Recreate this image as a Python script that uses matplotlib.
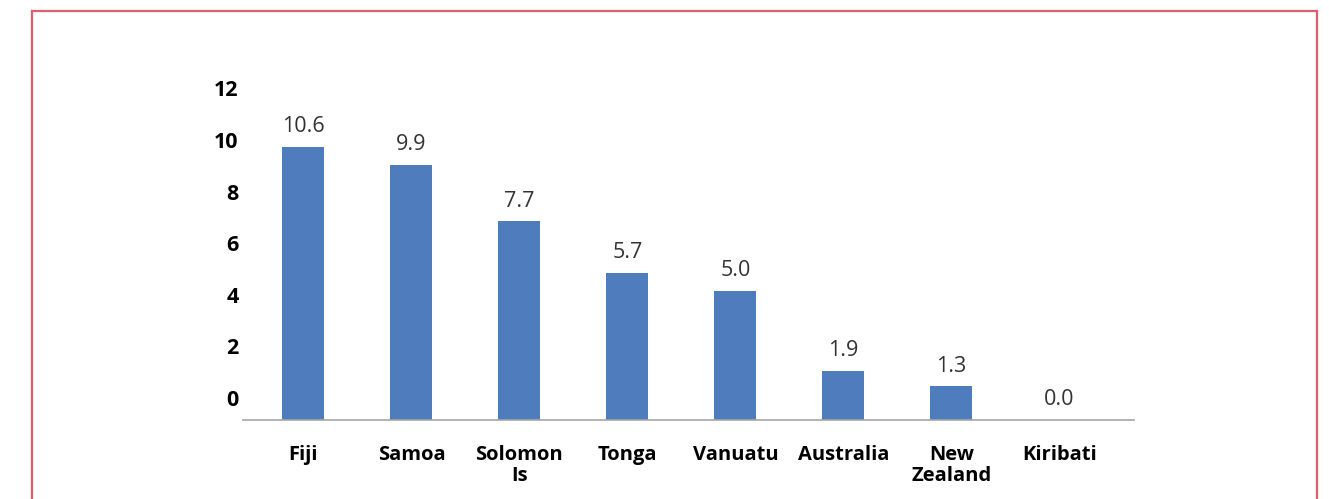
import matplotlib
matplotlib.use("Agg")
import matplotlib.pyplot as plt
import matplotlib.transforms as mtransforms
from matplotlib.lines import Line2D
import numpy as np

# ---- data ----
countries = ["Fiji", "Samoa", "Solomon\nIs", "Tonga", "Vanuatu",
             "Australia", "New\nZealand", "Kiribati"]
values = [10.6, 9.9, 7.7, 5.7, 5.0, 1.9, 1.3, 0.0]
y_ticks = [0, 2, 4, 6, 8, 10, 12]

BAR_COLOR = "#4f7cbc"
FRAME_COLOR = "#e05f6f"

plt.rcParams["font.family"] = ["Open Sans", "DejaVu Sans"]

fig = plt.figure(figsize=(13.29, 4.99), dpi=100)
ax = fig.add_axes([0.1828, 0.1583, 0.6704, 0.6463])

x = np.arange(len(countries))
ax.bar(x, values, width=0.39, color=BAR_COLOR, zorder=2)

# value labels above each bar
for xi, v in zip(x, values):
    ax.annotate(f"{v:.1f}", (xi, v), xytext=(0, 7), textcoords="offset points",
                ha="center", va="bottom", fontsize=15.5, color="#333333")

ax.set_xlim(-0.56, 7.69)
ax.set_ylim(0, 12.5)

ax.set_xticks(x)
ax.set_xticklabels(countries, fontsize=14.5, fontweight="bold",
                   linespacing=1.05)
ax.set_yticks(y_ticks)
ax.set_yticklabels([str(t) for t in y_ticks], fontsize=15.5, fontweight="bold")
ax.tick_params(axis="x", length=0, pad=18)
ax.tick_params(axis="y", length=0, pad=3)

# nudge the value axis labels upward a little
shift = mtransforms.ScaledTranslation(0, 22 / 100, fig.dpi_scale_trans)
for lbl in ax.get_yticklabels():
    lbl.set_transform(lbl.get_transform() + shift)

for side in ["left", "right", "top"]:
    ax.spines[side].set_visible(False)
ax.spines["bottom"].set_color("#a6a6a6")
ax.spines["bottom"].set_linewidth(1.2)

# red border around the chart area (open at the bottom)
fx0, fx1, fy1 = 32 / 1329, 1317 / 1329, 1 - 11 / 499
for xs, ys in [([fx0, fx0], [0, fy1]), ([fx0, fx1], [fy1, fy1]),
               ([fx1, fx1], [fy1, 0])]:
    fig.add_artist(Line2D(xs, ys, transform=fig.transFigure,
                          color=FRAME_COLOR, linewidth=1.6))

fig.savefig("out.png", dpi=100)
